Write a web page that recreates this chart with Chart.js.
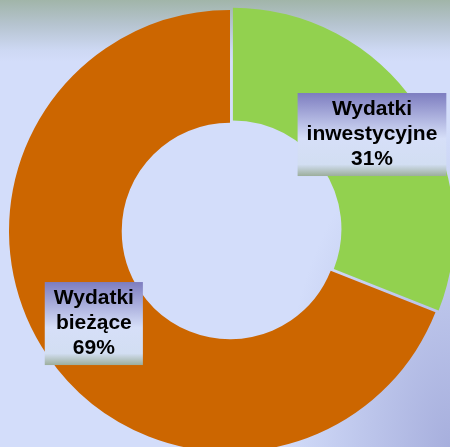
<!DOCTYPE html>
<html>
<head>
<meta charset="utf-8">
<script src="https://cdn.jsdelivr.net/npm/chart.js@4"></script>
<style>
  html, body { margin: 0; padding: 0; }
  body {
    width: 450px; height: 447px; overflow: hidden; position: relative;
    background:
      linear-gradient(180deg, #a1b5a9 0px, #b6c4d0 25px, #cdd8f3 50px, #d3ddfa 62px, rgba(211,221,250,0) 63px),
      radial-gradient(ellipse 170px 320px at 100% 100%, #a7afdd 0%, rgba(211,221,250,0) 100%),
      #d3ddfa;
  }
  #wrap { position: absolute; left: 2px; top: 3px; width: 456px; height: 456px; }
</style>
</head>
<body>
<div id="wrap"><canvas id="wydatkiChart" width="456" height="456"></canvas></div>
<script>
    // dane
    const categories = [['Wydatki', 'inwestycyjne'], ['Wydatki', 'bieżące']];
    const values = [31, 69];
    const sliceColors = ['#92d14f', '#cc6600'];

    // etykiety w ramkach z gradientem
    const boxLabels = {
        id: 'boxLabels',
        afterDatasetsDraw(chart) {
            const ctx = chart.ctx;
            const meta = chart.getDatasetMeta(0);
            const total = values.reduce((a, b) => a + b, 0);
            ctx.save();
            ctx.font = 'bold 21px "Liberation Sans", Arial, sans-serif';
            ctx.textAlign = 'center';
            ctx.textBaseline = 'middle';
            meta.data.forEach((arc, i) => {
                const p = arc.getCenterPoint();
                const lines = categories[i].concat([Math.round(values[i] / total * 100) + '%']);
                const w = Math.max(...lines.map(l => ctx.measureText(l).width)) + 18;
                const lh = 25;
                const h = lines.length * lh + 8;
                const x = p.x - w / 2, y = p.y - h / 2;
                const g = ctx.createLinearGradient(0, y, 0, y + h);
                g.addColorStop(0, '#7d7dc0');
                g.addColorStop(0.55, '#d6dff8');
                g.addColorStop(0.86, '#d2def2');
                g.addColorStop(1, '#9cae9c');
                ctx.fillStyle = g;
                ctx.fillRect(x, y, w, h);
                ctx.fillStyle = '#000';
                lines.forEach((l, k) => {
                    ctx.fillText(l, p.x, y + 4 + lh / 2 + k * lh);
                });
            });
            ctx.restore();
        }
    };

    let ctx = document.getElementById('wydatkiChart').getContext('2d');
    let wydatkiChart = new Chart(ctx, {
        type: 'doughnut',
        data: {
            labels: categories.map(c => c.join(' ')),
            datasets: [{
                data: values,
                backgroundColor: sliceColors,
                borderWidth: 0,
                offset: [14, 0]
            }]
        },
        options: {
            responsive: false,
            animation: false,
            cutout: '49%',
            layout: { padding: 0 },
            plugins: {
                legend: { display: false },
                tooltip: { enabled: false }
            }
        },
        plugins: [boxLabels]
    });
</script>
</body>
</html>
